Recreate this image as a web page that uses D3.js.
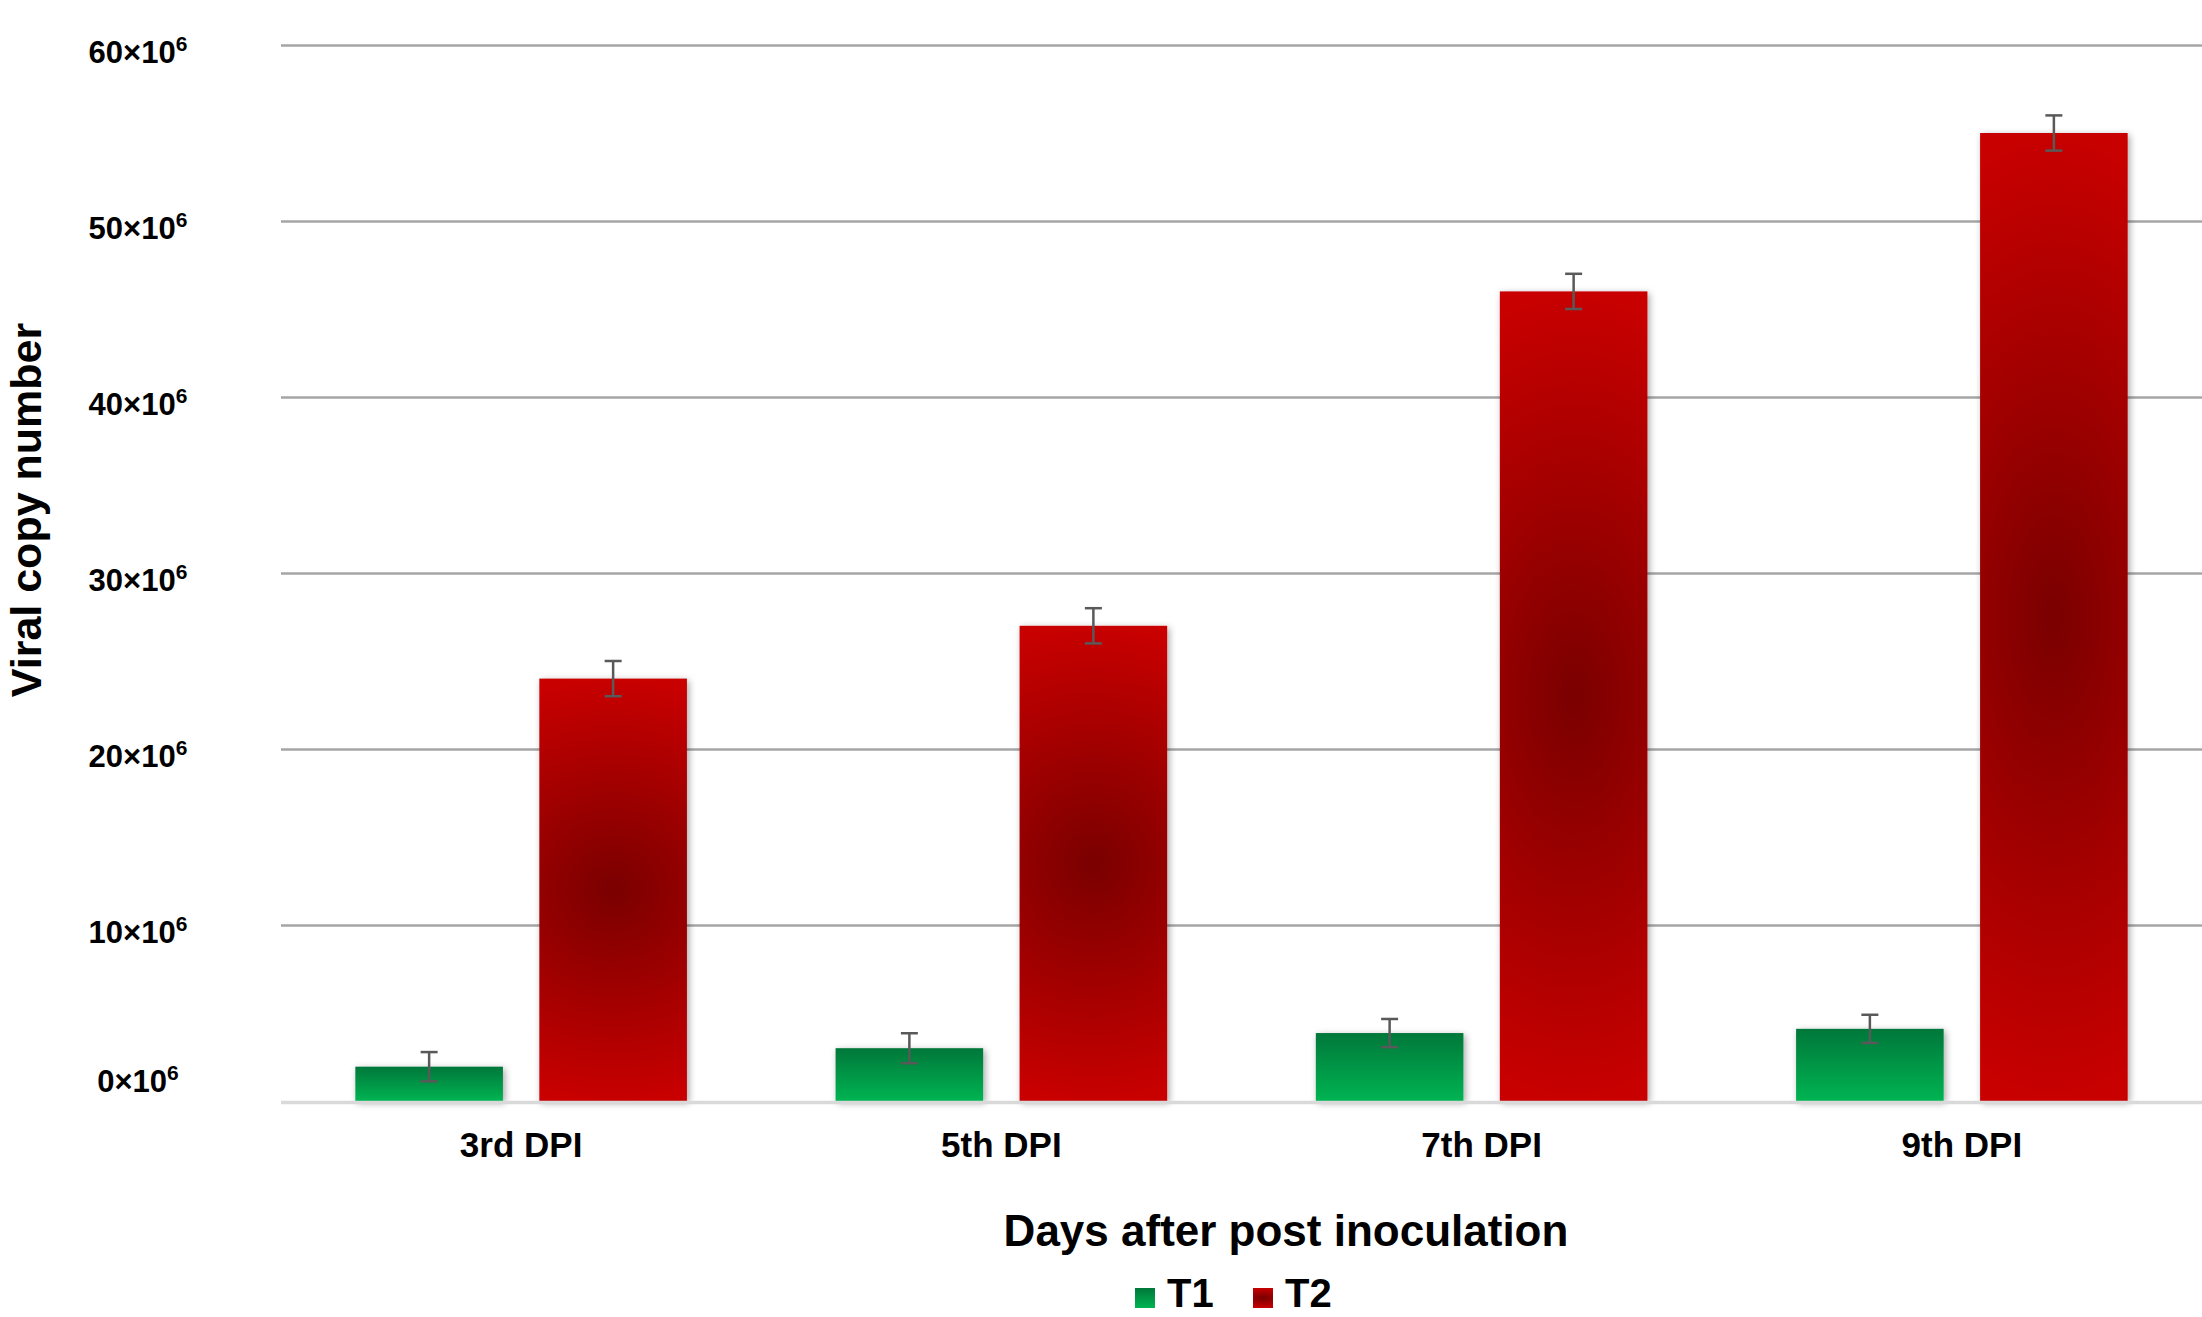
<!DOCTYPE html>
<html><head><meta charset="utf-8">
<script src="https://cdn.jsdelivr.net/npm/d3@7/dist/d3.min.js"></script>
<style>
html,body{margin:0;padding:0;background:#fff;}
svg{display:block;}
text{font-family:"Liberation Sans",Arial,Helvetica,sans-serif;font-weight:bold;fill:#000;}
</style>
</head><body>
<svg id="chart" width="2202" height="1317"></svg>
<script>
// ---- data ----
const categories = ["3rd DPI", "5th DPI", "7th DPI", "9th DPI"];
const seriesNames = ["T1", "T2"];
const t1Values = [1.95, 3.0, 3.86, 4.1];   // ×10^6
const t1Errors = [0.83, 0.85, 0.8, 0.8];
const t2Values = [24, 27, 46, 55];        // ×10^6
const t2Errors = [1.0, 1.0, 1.0, 1.0];
const yTicks = [0, 10, 20, 30, 40, 50, 60];
const yTickExponent = "6";
const yAxisTitle = "Viral copy number";
const xAxisTitle = "Days after post inoculation";

// ---- layout ----
const W = 2202, H = 1317;
const plot = {left: 281, right: 2202, top: 45, bottom: 1101};
const svg = d3.select("#chart");

const x0 = d3.scaleBand().domain(categories).range([plot.left, plot.right]).paddingInner(0).paddingOuter(0);
const x1 = d3.scaleBand().domain(seriesNames).range([0, x0.bandwidth()]).paddingInner(0.198).paddingOuter(0.404);
const y = d3.scaleLinear().domain([0, 60]).range([plot.bottom, plot.top]);

// ---- defs ----
const defs = svg.append("defs");
const gGreen = defs.append("linearGradient").attr("id", "gradT1")
  .attr("x1", 0).attr("y1", 0).attr("x2", 0).attr("y2", 1);
gGreen.append("stop").attr("offset", "0%").attr("stop-color", "#00773a");
gGreen.append("stop").attr("offset", "100%").attr("stop-color", "#00b452");

const gRed = defs.append("radialGradient").attr("id", "gradT2")
  .attr("cx", 0.5).attr("cy", 0.5).attr("r", 0.5)
  .attr("gradientTransform", "translate(0.5 0.5) scale(3 1) translate(-0.5 -0.5)");
gRed.append("stop").attr("offset", "0%").attr("stop-color", "#7a0000");
gRed.append("stop").attr("offset", "100%").attr("stop-color", "#c80000");

const f = defs.append("filter").attr("id", "shadow")
  .attr("x", "-30%").attr("y", "-30%").attr("width", "160%").attr("height", "160%");
f.append("feDropShadow").attr("dx", 2).attr("dy", 2).attr("stdDeviation", 3.5)
  .attr("flood-color", "#000").attr("flood-opacity", 0.35);

const fills = {T1: "url(#gradT1)", T2: "url(#gradT2)"};

// ---- gridlines via axis ----
const yAxis = d3.axisLeft(y).tickValues(yTicks.filter(v => v > 0))
  .tickSize(-(plot.right - plot.left)).tickFormat("");
const gy = svg.append("g").attr("transform", `translate(${plot.left},0)`).call(yAxis);
gy.select(".domain").remove();
gy.selectAll(".tick line").attr("stroke", "#a6a6a6").attr("stroke-width", 2.5);

// ---- y tick labels ----
const labelX = 138;
const tl = svg.append("g").selectAll("text").data(yTicks).join("text")
  .attr("x", labelX)
  .attr("y", d => d === 0 ? y(d) - 9 : y(d) + 18)
  .attr("text-anchor", "middle")
  .attr("font-size", 31);
tl.append("tspan").text(d => d + "×10");
tl.append("tspan").attr("font-size", 21).attr("dy", -12).text(yTickExponent);

// ---- bars ----
const rows = categories.map((c, i) => ({
  cat: c,
  items: [
    {s: "T1", v: t1Values[i], e: t1Errors[i]},
    {s: "T2", v: t2Values[i], e: t2Errors[i]}
  ]
}));

const groups = svg.append("g").selectAll("g").data(rows).join("g")
  .attr("transform", d => `translate(${x0(d.cat)},0)`);

groups.selectAll("rect").data(d => d.items).join("rect")
  .attr("x", d => x1(d.s))
  .attr("y", d => y(d.v))
  .attr("width", x1.bandwidth())
  .attr("height", d => y(0) - y(d.v))
  .attr("fill", d => fills[d.s])
  .attr("filter", "url(#shadow)");

// baseline
svg.append("line")
  .attr("x1", plot.left).attr("x2", plot.right)
  .attr("y1", y(0) + 1.5).attr("y2", y(0) + 1.5)
  .attr("stroke", "#d9d9d9").attr("stroke-width", 3.5);

// ---- error bars ----
const capW = 17;
const eb = groups.selectAll("g.err").data(d => d.items).join("g").attr("class", "err")
  .attr("stroke", "#595959").attr("stroke-width", 2.5);
eb.append("line")
  .attr("x1", d => x1(d.s) + x1.bandwidth() / 2).attr("x2", d => x1(d.s) + x1.bandwidth() / 2)
  .attr("y1", d => y(d.v + d.e)).attr("y2", d => y(d.v - d.e));
eb.append("line")
  .attr("x1", d => x1(d.s) + x1.bandwidth() / 2 - capW / 2).attr("x2", d => x1(d.s) + x1.bandwidth() / 2 + capW / 2)
  .attr("y1", d => y(d.v + d.e)).attr("y2", d => y(d.v + d.e));
eb.append("line")
  .attr("x1", d => x1(d.s) + x1.bandwidth() / 2 - capW / 2).attr("x2", d => x1(d.s) + x1.bandwidth() / 2 + capW / 2)
  .attr("y1", d => y(d.v - d.e)).attr("y2", d => y(d.v - d.e));

// ---- x axis labels ----
const xAxis = d3.axisBottom(x0).tickSize(0);
const gx = svg.append("g").attr("transform", `translate(0,${plot.bottom})`).call(xAxis);
gx.select(".domain").remove();
gx.selectAll(".tick text")
  .attr("y", 56).attr("dy", 0)
  .attr("font-size", 35)
  .attr("font-family", '"Liberation Sans",Arial,sans-serif')
  .attr("font-weight", "bold")
  .attr("fill", "#000");

// ---- axis titles ----
svg.append("text")
  .attr("x", 1286).attr("y", 1246)
  .attr("text-anchor", "middle").attr("font-size", 44)
  .text(xAxisTitle);

svg.append("text")
  .attr("transform", "translate(41,510) rotate(-90)")
  .attr("text-anchor", "middle").attr("font-size", 43)
  .text(yAxisTitle);

// ---- legend ----
const legendPos = [{s: "T1", sx: 1135, tx: 1167}, {s: "T2", sx: 1253, tx: 1285}];
const lg = svg.append("g").selectAll("g").data(legendPos).join("g");
lg.append("rect")
  .attr("x", d => d.sx).attr("y", 1288).attr("width", 20).attr("height", 20)
  .attr("fill", d => fills[d.s]);
lg.append("text")
  .attr("x", d => d.tx).attr("y", 1307).attr("font-size", 40)
  .text(d => d.s);
</script>
</body></html>
